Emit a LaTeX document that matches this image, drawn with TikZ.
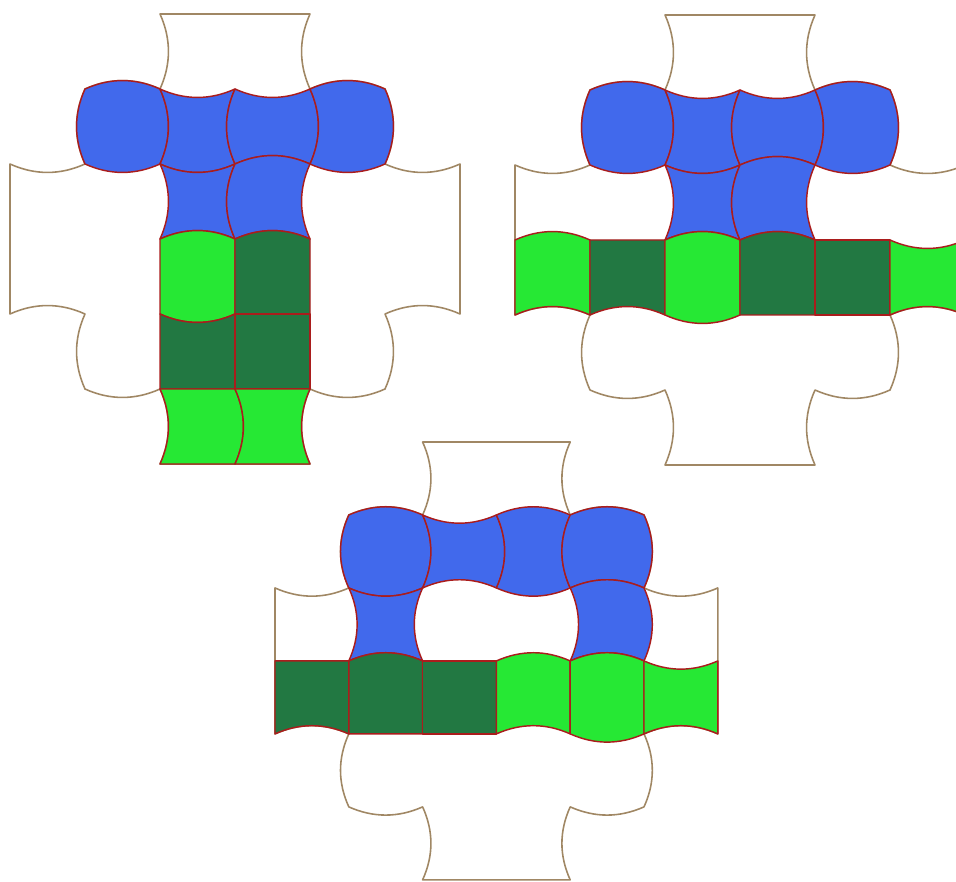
\documentclass[tikz,border=0pt]{standalone}

\definecolor{tileblue}{RGB}{65,105,236}
\definecolor{lightgreen}{RGB}{38,232,52}
\definecolor{darkgreen}{RGB}{34,120,66}
\definecolor{tileedge}{RGB}{170,28,28}
\definecolor{boardedge}{RGB}{160,135,100}

% bulge of a curved edge (control point offset, in cells)
\newcommand\bh{0.15}
% edge from (#1,#2) to (#3,#4); #5 = 1 bows out (right of travel), -1 bows in, 0 straight
\newcommand\bulgeto[5]{%
  .. controls ({(#1)+((#3)-(#1))/3+(#5)*\bh*((#4)-(#2))},{(#2)+((#4)-(#2))/3-(#5)*\bh*((#3)-(#1))})
  and ({(#1)+2*((#3)-(#1))/3+(#5)*\bh*((#4)-(#2))},{(#2)+2*((#4)-(#2))/3-(#5)*\bh*((#3)-(#1))}) .. (#3,#4)}
% tile in cell (#1,#2), colour #3, edges top/right/bottom/left = #4/#5/#6/#7
\newcommand\tile[7]{%
  \pgfmathsetmacro\xl{#1}\pgfmathsetmacro\xr{#1+1}%
  \pgfmathsetmacro\yt{-(#2)}\pgfmathsetmacro\yb{-(#2)-1}%
  \filldraw[tilepiece, fill=#3] (\xl,\yb) \bulgeto{\xl}{\yb}{\xr}{\yb}{#6}
    \bulgeto{\xr}{\yb}{\xr}{\yt}{#5} \bulgeto{\xr}{\yt}{\xl}{\yt}{#4}
    \bulgeto{\xl}{\yt}{\xl}{\yb}{#7} -- cycle;}
% the cross shaped board
\newcommand\board{%
  \draw[boardline] (4,0) -- (2,0)
    \bulgeto{2}{0}{2}{-1}{-1} \bulgeto{2}{-1}{1}{-1}{1}
    \bulgeto{1}{-1}{1}{-2}{1} \bulgeto{1}{-2}{0}{-2}{-1}
    -- (0,-4)
    \bulgeto{0}{-4}{1}{-4}{-1} \bulgeto{1}{-4}{1}{-5}{1}
    \bulgeto{1}{-5}{2}{-5}{1} \bulgeto{2}{-5}{2}{-6}{-1}
    -- (4,-6)
    \bulgeto{4}{-6}{4}{-5}{-1} \bulgeto{4}{-5}{5}{-5}{1}
    \bulgeto{5}{-5}{5}{-4}{1} \bulgeto{5}{-4}{6}{-4}{-1}
    -- (6,-2)
    \bulgeto{6}{-2}{5}{-2}{-1} \bulgeto{5}{-2}{5}{-1}{1}
    \bulgeto{5}{-1}{4}{-1}{1} \bulgeto{4}{-1}{4}{0}{-1} -- cycle;}

\begin{document}
\begin{tikzpicture}[
  tilepiece/.style={draw=tileedge, line width=0.55pt, line join=round},
  boardline/.style={draw=boardedge, line width=0.6pt, line join=round},
]
\useasboundingbox (0,0) rectangle (12.7467,-11.76);
\clip (0,0) rectangle (12.7467,-11.76);

% left: cross piece
\begin{scope}[shift={(0.1333,-0.1867)}]
  \board
  \foreach \col/\row/\fillc/\tp/\rt/\bt/\lf in {
    1/1/tileblue/1/1/1/1, 2/1/tileblue/-1/-1/1/-1, 3/1/tileblue/-1/1/-1/1, 4/1/tileblue/1/1/1/-1,
    2/2/tileblue/-1/-1/-1/-1, 3/2/tileblue/1/-1/-1/1,
    2/3/lightgreen/1/0/1/0, 3/3/darkgreen/1/0/0/0,
    2/4/darkgreen/-1/0/0/0, 3/4/darkgreen/0/0/0/0,
    2/5/lightgreen/0/1/0/-1, 3/5/lightgreen/0/-1/0/-1} {
    \tile{\col}{\row}{\fillc}{\tp}{\rt}{\bt}{\lf}
  }
\end{scope}

% right: green row across
\begin{scope}[shift={(6.8667,-0.2)}]
  \board
  \foreach \col/\row/\fillc/\tp/\rt/\bt/\lf in {
    1/1/tileblue/1/1/1/1, 2/1/tileblue/-1/-1/1/-1, 3/1/tileblue/-1/1/-1/1, 4/1/tileblue/1/1/1/-1,
    2/2/tileblue/-1/-1/-1/-1, 3/2/tileblue/1/-1/-1/1,
    0/3/lightgreen/1/0/-1/0, 1/3/darkgreen/0/0/-1/0, 2/3/lightgreen/1/0/1/0,
    3/3/darkgreen/1/0/0/0, 4/3/darkgreen/0/0/0/0, 5/3/lightgreen/-1/0/-1/0} {
    \tile{\col}{\row}{\fillc}{\tp}{\rt}{\bt}{\lf}
  }
\end{scope}

% bottom: ring
\begin{scope}[shift={(3.6667,-5.8933)}, xscale=0.984, yscale=0.973]
  \board
  \foreach \col/\row/\fillc/\tp/\rt/\bt/\lf in {
    1/1/tileblue/1/1/1/1, 2/1/tileblue/-1/1/-1/-1, 3/1/tileblue/1/-1/1/-1, 4/1/tileblue/1/1/-1/1,
    1/2/tileblue/-1/-1/-1/-1, 4/2/tileblue/1/1/-1/-1,
    0/3/darkgreen/0/0/-1/0, 1/3/darkgreen/1/0/0/0, 2/3/darkgreen/0/0/0/0,
    3/3/lightgreen/1/0/-1/0, 4/3/lightgreen/1/0/1/0, 5/3/lightgreen/-1/0/-1/0} {
    \tile{\col}{\row}{\fillc}{\tp}{\rt}{\bt}{\lf}
  }
\end{scope}
\end{tikzpicture}
\end{document}
